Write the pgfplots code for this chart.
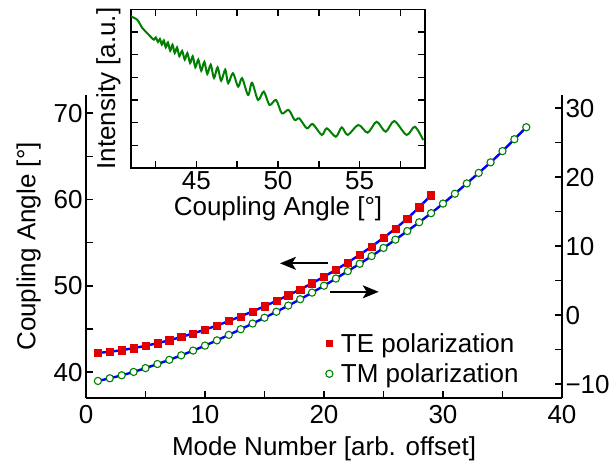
\documentclass[border=0pt]{standalone}
\usepackage{fontspec}
\setmainfont{Liberation Sans}
\usepackage{pgfplots}
\pgfplotsset{compat=1.18}
\usetikzlibrary{arrows.meta}
\newcommand\lbl{\fontsize{26}{31}\selectfont}
\definecolor{teRed}{RGB}{225,0,0}
\definecolor{tmGreen}{RGB}{0,128,0}
\definecolor{fitBlue}{RGB}{0,0,255}

\pgfplotsset{
  base/.style={
    scale only axis, width=476pt, height=303pt,
    xmin=0, xmax=40,
    tick align=inside, major tick length=7pt, minor tick length=7pt,
    every tick/.style={black, line width=1.5pt},
    axis line style={-, line width=1.6pt},
    tick label style={font=\lbl},
    label style={font=\lbl},
    /pgf/number format/assume math mode=true,
  }
}

% TE modes, left axis (deg)
\pgfplotstableread{
n ang
1 42.22
2 42.36
3 42.54
4 42.78
5 43.05
6 43.35
7 43.69
8 44.07
9 44.48
10 44.92
11 45.40
12 45.91
13 46.46
14 47.03
15 47.63
16 48.25
17 48.90
18 49.58
19 50.30
20 51.06
21 51.86
22 52.70
23 53.60
24 54.55
25 55.56
26 56.62
27 57.80
28 59.10
29 60.50
}\teData

% TM modes, right axis
\pgfplotstableread{
n ang
1 -9.53
2 -9.14
3 -8.71
4 -8.22
5 -7.67
6 -7.08
7 -6.47
8 -5.82
9 -5.13
10 -4.41
11 -3.65
12 -2.85
13 -2.04
14 -1.21
15 -0.37
16 0.50
17 1.39
18 2.31
19 3.27
20 4.27
21 5.31
22 6.38
23 7.45
24 8.56
25 9.74
26 10.94
27 12.19
28 13.46
29 14.78
30 16.17
31 17.60
32 19.09
33 20.61
34 22.14
35 23.77
36 25.49
37 27.23
}\tmData

% inset spectrum
\pgfplotstableread{
a I
40.98 6.69
41.38 6.54
41.69 6.18
41.99 5.95
42.24 5.76
42.40 5.66
42.52 5.76
42.65 5.56
42.77 5.69
42.89 5.44
43.01 5.63
43.13 5.32
43.26 5.54
43.40 5.17
43.54 5.44
43.68 5.07
43.82 5.32
43.96 4.93
44.13 5.17
44.29 4.78
44.45 5.07
44.62 4.63
44.78 4.93
44.94 4.44
45.12 4.78
45.30 4.29
45.49 4.68
45.67 4.15
45.88 4.56
46.08 3.97
46.30 4.44
46.52 3.85
46.77 4.34
46.95 3.74
47.24 4.18
47.56 3.59
47.80 3.96
48.17 3.22
48.41 3.76
48.78 3.00
49.13 3.37
49.48 2.78
49.88 3.00
50.24 2.41
50.65 2.56
51.02 2.12
51.30 2.19
51.77 1.75
52.12 1.94
52.68 1.46
52.99 1.75
53.54 1.38
53.90 1.79
54.27 1.46
54.92 1.90
55.49 1.56
56.04 2.04
56.59 1.60
57.12 2.07
57.87 1.46
58.38 1.82
58.89 1.23
}\specData

\begin{document}
\begin{tikzpicture}
\begin{axis}[base,
  axis x line*=bottom, axis y line*=left,
  ymin=37, ymax=72.1,
  xtick={0,10,...,40}, minor xtick={5,15,25,35},
  xticklabel style={yshift=-4pt},
  xlabel={Mode Number [arb. offset]},
  xlabel style={yshift=-6pt},
  ylabel={Coupling Angle [°]},
  ylabel style={yshift=6pt},
  ytick={40,50,60,70}, minor ytick={45,55,65},
]
\addplot[fitBlue, line width=2.4pt, smooth, forget plot] table[x=n, y=ang] {\teData};
\addplot[only marks, mark=square*, mark size=3.6pt, mark options={draw=teRed, fill=teRed}]
  table[x=n, y=ang] {\teData};
\draw[-{Stealth[length=16pt, width=13pt, inset=4pt]}, line width=1.8pt]
  (axis cs:20.3,52.6) -- (axis cs:16.3,52.6);
\draw[-{Stealth[length=16pt, width=13pt, inset=4pt]}, line width=1.8pt]
  (axis cs:20.5,49.3) -- (axis cs:24.6,49.3);
\end{axis}

\begin{axis}[base,
  axis x line=none, axis y line*=right,
  ymin=-12, ymax=31.9,
  ytick={-10,0,10,20,30}, yticklabels={−10,0,10,20,30},
  minor ytick={-5,5,15,25},
  legend style={at={(0.497,0.13)}, anchor=west, draw=none, fill=none,
                font=\lbl, row sep=6pt, column sep=6pt},
  legend cell align=left,
]
\addlegendimage{only marks, mark=square*, mark size=3.2pt, mark options={draw=teRed, fill=teRed}}
\addlegendentry{TE polarization}
\addplot[fitBlue, line width=2.4pt, smooth, forget plot] table[x=n, y=ang] {\tmData};
\addplot[only marks, mark=*, mark size=3.6pt, mark options={draw=tmGreen, fill=white, line width=1.1pt}]
  table[x=n, y=ang] {\tmData};
\addlegendentry{TM polarization}
\end{axis}

\begin{axis}[at={(45pt,230pt)}, anchor=south west,
  scale only axis, width=294pt, height=158.7pt,
  xmin=41, xmax=59, ymin=0, ymax=7,
  xtick={45,50,55}, minor xtick={42.5,47.5,52.5,57.5},
  ytick={1,2,3,4,5,6}, yticklabels={},
  xtick pos=both, ytick pos=both, xticklabel pos=bottom,
  tick align=inside, major tick length=7pt, minor tick length=7pt,
  every tick/.style={black, line width=1.5pt},
  axis line style={line width=1.6pt},
  axis background/.style={fill=white},
  tick label style={font=\lbl},
  label style={font=\lbl},
  /pgf/number format/assume math mode=true,
  xlabel={Coupling Angle [°]},
  ylabel={Intensity [a.u.]},
]
\addplot[tmGreen, line width=2pt, smooth] table[x=a, y=I] {\specData};
\end{axis}

\pgfresetboundingbox
\path (-86pt,-63pt) rectangle (527pt,398pt);
\end{tikzpicture}
\end{document}
